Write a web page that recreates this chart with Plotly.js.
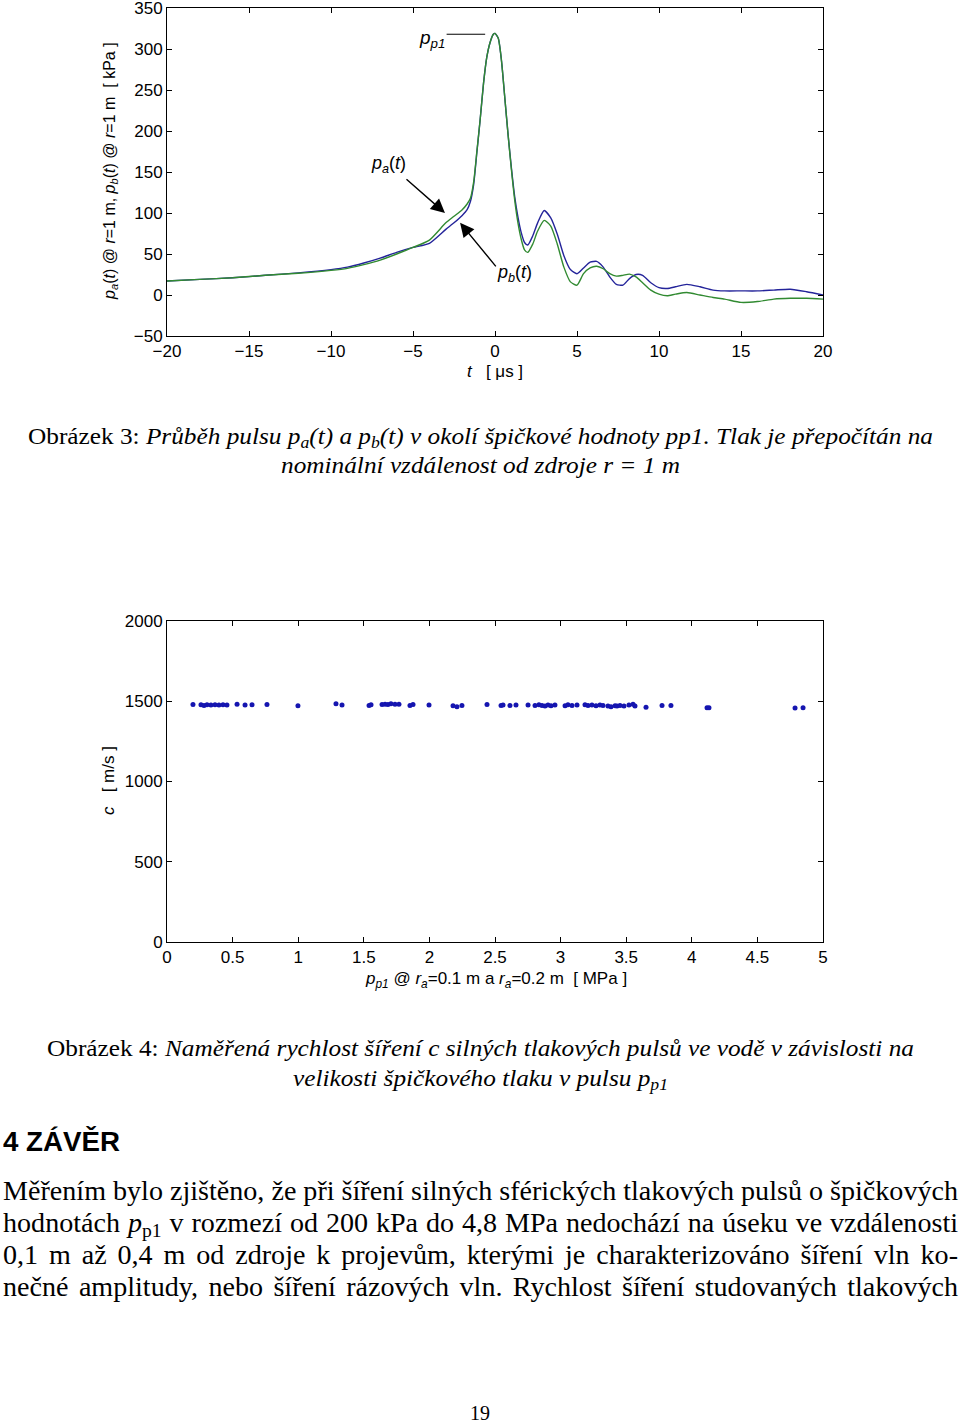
<!DOCTYPE html>
<html>
<head>
<meta charset="utf-8">
<script src="https://cdn.plot.ly/plotly-3.0.1.min.js"></script>
<style>
  html, body { margin:0; padding:0; background:#fff; }
  #page { position:relative; width:960px; height:1424px; overflow:hidden; }
  #chart { position:absolute; left:0; top:0; width:960px; height:1424px; }
  .ln { position:absolute; white-space:nowrap; color:#000; }
  .ln span { display:inline-block; transform-origin:left top; white-space:nowrap; }
  .serif { font-family:"Liberation Serif","Times New Roman",serif; }
  .cap { font-size:24px; line-height:28px; }
  .body { font-size:28px; line-height:32px; }
  .head { font-family:"Liberation Sans",Arial,sans-serif; font-weight:bold; font-size:27px; line-height:32px; }
  sub { font-size:70%; line-height:0; vertical-align:-0.25em; }
</style>
</head>
<body>
<div id="page">
  <div id="chart"></div>

  <div class="ln serif cap" data-w="905" style="left:28px; top:422px;"><span>Obrázek 3: <i>Průběh pulsu p<sub>a</sub>(t) a p<sub>b</sub>(t) v okolí špičkové hodnoty pp1. Tlak je přepočítán na</i></span></div>
  <div class="ln serif cap" data-w="399" style="left:281px; top:451px;"><span><i>nominální vzdálenost od zdroje r = 1 m</i></span></div>

  <div class="ln serif cap" data-w="867" style="left:47px; top:1034px;"><span>Obrázek 4: <i>Naměřená rychlost šíření c silných tlakových pulsů ve vodě v závislosti na</i></span></div>
  <div class="ln serif cap" data-w="375" style="left:293px; top:1064px;"><span><i>velikosti špičkového tlaku v pulsu p<sub>p1</sub></i></span></div>

  <div class="ln head" data-w="117" style="left:3px; top:1126px;"><span>4 ZÁVĚR</span></div>

  <div class="ln serif body par" style="left:3px; top:1175px;"><span>Měřením bylo zjištěno, že při šíření silných sférických tlakových pulsů o špičkových</span></div>
  <div class="ln serif body par" style="left:3px; top:1207px;"><span>hodnotách <i>p</i><sub>p1</sub> v rozmezí od 200 kPa do 4,8 MPa nedochází na úseku ve vzdálenosti</span></div>
  <div class="ln serif body par" style="left:3px; top:1239px;"><span>0,1 m až 0,4 m od zdroje k projevům, kterými je charakterizováno šíření vln ko-</span></div>
  <div class="ln serif body par" style="left:3px; top:1271px;"><span>nečné amplitudy, nebo šíření rázových vln. Rychlost šíření studovaných tlakových</span></div>

  <div class="ln serif" style="left:470px; top:1402px; font-size:20px; line-height:22px;"><span>19</span></div>
</div>

<script>
// ---------- Figure 3 data: pressure pulses ----------
const tMicro = [-20, -18, -16, -14, -12, -10, -9, -8, -7, -6, -5, -4, -3, -2.5, -2, -1.7, -1.5, -1.3, -1.1, -0.9, -0.7, -0.5, -0.3, -0.1, 0, 0.2, 0.4, 0.6, 0.8, 1.0, 1.2, 1.4, 1.6, 1.8, 2.0, 2.3, 2.6, 3.0, 3.4, 3.8, 4.2, 4.6, 5.0, 5.4, 5.8, 6.2, 6.6, 7.0, 7.4, 7.8, 8.2, 8.6, 9.0, 9.5, 10, 10.5, 11, 11.7, 12.5, 13.3, 14, 15, 16, 17, 18, 19, 20];
const pbKPa  = [17, 19, 21, 24, 27, 31, 34, 39, 45, 52, 58, 63, 80, 88, 97, 104, 114, 135, 175, 215, 258, 290, 308, 318, 319, 313, 285, 240, 195, 155, 120, 95, 76, 64, 61, 72, 88, 103, 94, 74, 48, 31, 26, 33, 40, 41, 34, 22, 13, 12, 20, 25, 24, 15, 9, 8, 10, 13, 10, 6, 5, 5, 5, 6, 7, 4, 0];
const paKPa  = [17, 19, 21, 24, 26.5, 30, 32.5, 37, 42.5, 50, 58, 67, 88, 96, 104, 111, 118, 138, 176, 215, 258, 290, 308, 318, 319, 313, 285, 240, 195, 153, 116, 88, 68, 55, 52, 62, 78, 91, 84, 62, 34, 16, 12, 26, 33, 35, 32, 26, 23, 24, 25.5, 22, 15, 6, 1, -1, 1, 3, 0, -3, -5, -9, -8, -5, -4, -4, -5];

// ---------- Figure 4 data: propagation speed vs peak pressure ----------
const peakMPa = [0.198, 0.259, 0.282, 0.305, 0.335, 0.366, 0.396, 0.427, 0.457, 0.534, 0.595, 0.648, 0.762, 0.998, 1.288, 1.334, 1.540, 1.555, 1.639, 1.662, 1.684, 1.707, 1.738, 1.768, 1.852, 1.875, 1.997, 2.180, 2.210, 2.248, 2.439, 2.546, 2.561, 2.614, 2.660, 2.752, 2.805, 2.835, 2.858, 2.881, 2.904, 2.927, 2.957, 3.034, 3.056, 3.087, 3.125, 3.186, 3.209, 3.239, 3.270, 3.300, 3.323, 3.361, 3.384, 3.415, 3.430, 3.453, 3.483, 3.521, 3.552, 3.567, 3.651, 3.773, 3.841, 4.116, 4.131, 4.787, 4.848];
const speedMs = [1480, 1478, 1474, 1478, 1476, 1478, 1476, 1478, 1476, 1482, 1476, 1478, 1480, 1472, 1484, 1476, 1474, 1478, 1480, 1482, 1480, 1484, 1482, 1482, 1474, 1480, 1476, 1472, 1466, 1474, 1480, 1474, 1476, 1474, 1476, 1476, 1474, 1478, 1474, 1470, 1476, 1472, 1476, 1472, 1478, 1474, 1476, 1478, 1474, 1476, 1472, 1476, 1474, 1470, 1466, 1472, 1470, 1474, 1470, 1476, 1482, 1470, 1462, 1474, 1474, 1460, 1460, 1458, 1460];

const xTicks3 = [-20, -15, -10, -5, 0, 5, 10, 15, 20];
const yTicks3 = [-50, 0, 50, 100, 150, 200, 250, 300, 350];
const xTicks4 = [0, 0.5, 1, 1.5, 2, 2.5, 3, 3.5, 4, 4.5, 5];
const yTicks4 = [0, 500, 1000, 1500, 2000];

const W = 960, H = 1424;
const px = v => v / W;
const py = v => 1 - v / H;
const FONT = '"Liberation Sans", Arial, Helvetica, sans-serif';

const axisBase = {
  showline: true, linecolor: '#000', linewidth: 1, mirror: 'ticks',
  ticks: 'inside', ticklen: 5, tickwidth: 1, tickcolor: '#000',
  showgrid: false, zeroline: false, ticklabeloverflow: 'allow',
  tickfont: { family: FONT, size: 17, color: '#000' }
};

const traces = [
  { x: tMicro, y: pbKPa, xaxis: 'x', yaxis: 'y', mode: 'lines', name: 'p_b(t)',
    line: { color: '#24249a', width: 1.4, shape: 'spline', smoothing: 0.6 } },
  { x: tMicro, y: paKPa, xaxis: 'x', yaxis: 'y', mode: 'lines', name: 'p_a(t)',
    line: { color: '#318a31', width: 1.4, shape: 'spline', smoothing: 0.6 } },
  { x: peakMPa, y: speedMs, xaxis: 'x2', yaxis: 'y2', mode: 'markers', name: 'c',
    marker: { color: '#1515b0', size: 5 } }
];

const lbl = (x, y, text, size, extra) => Object.assign({
  xref: 'paper', yref: 'paper', x: px(x), y: py(y), xanchor: 'center', yanchor: 'middle',
  showarrow: false, font: { family: FONT, size: size, color: '#000' }, text: text
}, extra || {});

const layout = {
  width: W, height: H,
  margin: { l: 0, r: 0, t: 0, b: 0 },
  paper_bgcolor: '#fff', plot_bgcolor: '#fff',
  showlegend: false,
  font: { family: FONT, color: '#000' },
  xaxis: Object.assign({}, axisBase, { domain: [px(167), px(823)], anchor: 'y', range: [-20, 20], tickvals: xTicks3 }),
  yaxis: Object.assign({}, axisBase, { domain: [py(336), py(8)], anchor: 'x', range: [-50, 350], tickvals: yTicks3 }),
  xaxis2: Object.assign({}, axisBase, { domain: [px(167), px(823)], anchor: 'y2', range: [0, 5], tickvals: xTicks4 }),
  yaxis2: Object.assign({}, axisBase, { domain: [py(942), py(621)], anchor: 'x2', range: [0, 2000], tickvals: yTicks4 }),
  shapes: [
    { type: 'line', xref: 'x', yref: 'y', x0: -2.95, x1: -0.6, y0: 318, y1: 318, line: { color: '#000', width: 1 } }
  ],
  annotations: [
    lbl(110, 171, '<i>p</i><sub><i>a</i></sub>(<i>t</i>) @ <i>r</i>=1 m, <i>p</i><sub><i>b</i></sub>(<i>t</i>) @ <i>r</i>=1 m\u00a0\u00a0[ kPa ]', 16, { textangle: -90 }),
    lbl(495, 371, '<i>t</i>\u00a0\u00a0\u00a0[ μs ]', 17),
    lbl(108, 781, '<i>c</i>\u00a0\u00a0\u00a0[ m/s ]', 17, { textangle: -90 }),
    lbl(496, 980, '<i>p</i><sub><i>p1</i></sub> @ <i>r</i><sub><i>a</i></sub>=0.1 m a <i>r</i><sub><i>a</i></sub>=0.2 m\u00a0\u00a0[ MPa ]', 17),
    lbl(432, 39, '<i>p</i><sub><i>p1</i></sub>', 19),
    lbl(388, 164, '<i>p</i><sub><i>a</i></sub>(<i>t</i>)', 18),
    lbl(514, 274, '<i>p</i><sub><i>b</i></sub>(<i>t</i>)', 18),
    { xref: 'x', yref: 'y', x: -3.05, y: 100, ax: -40, ay: -35, text: '', showarrow: true,
      arrowhead: 2, arrowsize: 2, arrowwidth: 1.4, arrowcolor: '#000' },
    { xref: 'x', yref: 'y', x: -2.13, y: 88, ax: 37, ay: 45, text: '', showarrow: true,
      arrowhead: 2, arrowsize: 2, arrowwidth: 1.4, arrowcolor: '#000' }
  ]
};

Plotly.newPlot('chart', traces, layout, { staticPlot: true, displayModeBar: false });

// fit caption / heading lines to their reference widths
document.querySelectorAll('.ln[data-w]').forEach(el => {
  const w = +el.dataset.w;
  const s = el.querySelector('span');
  const nat = s.getBoundingClientRect().width;
  s.style.transform = 'scaleX(' + (w / nat) + ')';
});

// paragraph: common horizontal scale taken from the first line, then justify
const pars = Array.from(document.querySelectorAll('.par'));
const TARGET = 955;
const nat0 = pars[0].querySelector('span').getBoundingClientRect().width;
const sc = TARGET / nat0;
pars.forEach(el => {
  const s = el.querySelector('span');
  const nat = s.getBoundingClientRect().width;
  const k = Math.min(sc, TARGET / nat);
  s.style.display = 'block';
  s.style.width = (TARGET / k) + 'px';
  s.style.textAlign = 'justify';
  s.style.textAlignLast = 'justify';
  s.style.transform = 'scaleX(' + k + ')';
});
</script>
</body>
</html>
